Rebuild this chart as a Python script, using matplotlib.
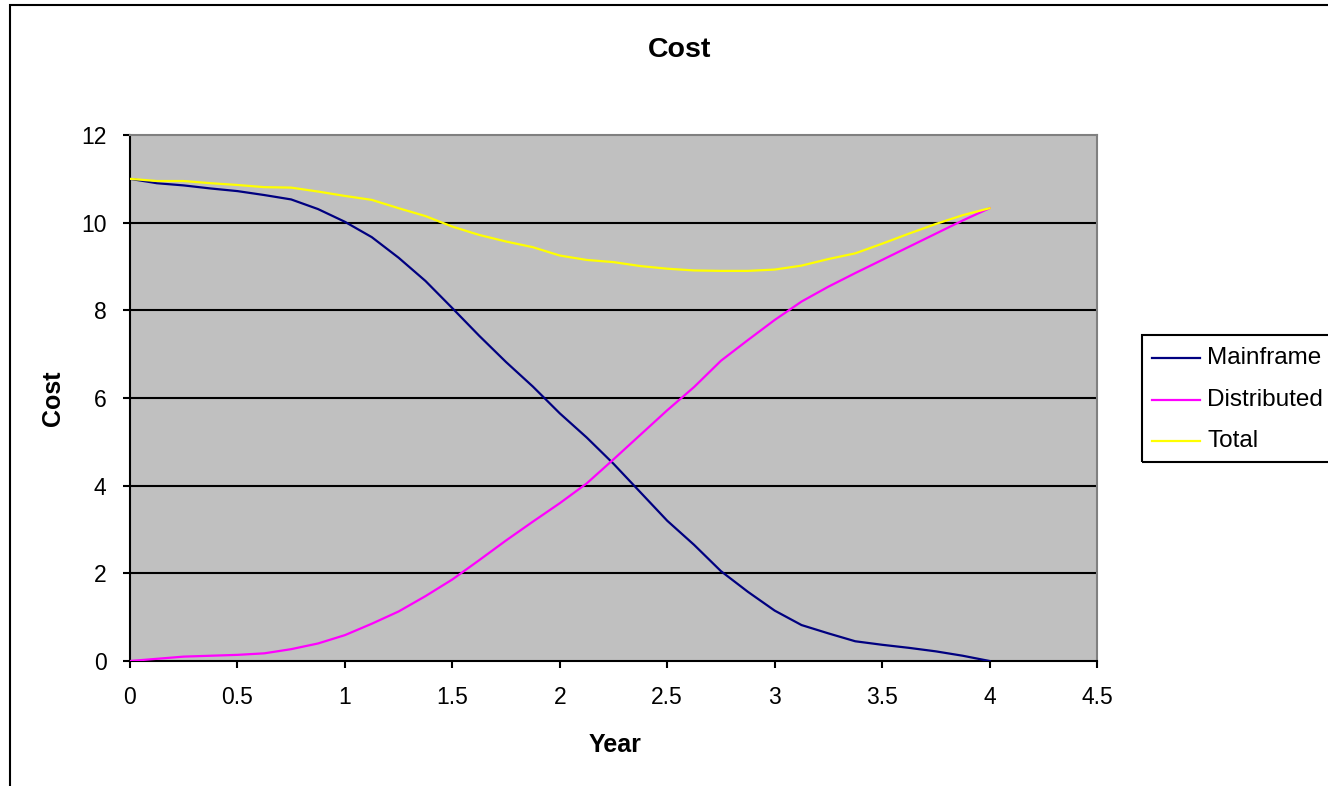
import numpy as np
import matplotlib.pyplot as plt
from matplotlib.patches import Rectangle
from matplotlib.lines import Line2D

plt.switch_backend('Agg')
plt.rcParams['font.family'] = ['Liberation Sans', 'DejaVu Sans']

# cost per year, sampled every 1/8 year
year = [0, 0.125, 0.25, 0.375, 0.5, 0.625, 0.75, 0.875,
        1.0, 1.125, 1.25, 1.375, 1.5, 1.625, 1.75, 1.875,
        2.0, 2.125, 2.25, 2.375, 2.5, 2.625, 2.75, 2.875,
        3.0, 3.125, 3.25, 3.375, 3.5, 3.625, 3.75, 3.875, 4.0]
mainframe = [11.0, 10.90, 10.85, 10.78, 10.72, 10.63, 10.53, 10.31,
             10.02, 9.67, 9.20, 8.67, 8.05, 7.42, 6.82, 6.26,
             5.65, 5.10, 4.50, 3.85, 3.20, 2.65, 2.05, 1.58,
             1.15, 0.82, 0.63, 0.45, 0.37, 0.30, 0.22, 0.12, 0.0]
distributed = [0.0, 0.05, 0.10, 0.12, 0.14, 0.175, 0.27, 0.40,
               0.59, 0.85, 1.13, 1.48, 1.86, 2.30, 2.75, 3.18,
               3.60, 4.05, 4.60, 5.16, 5.72, 6.25, 6.85, 7.32,
               7.78, 8.20, 8.54, 8.85, 9.15, 9.45, 9.75, 10.05, 10.33]
total = [11.0, 10.95, 10.95, 10.90, 10.86, 10.81, 10.80, 10.71,
         10.61, 10.52, 10.33, 10.15, 9.91, 9.72, 9.57, 9.44,
         9.25, 9.15, 9.10, 9.01, 8.95, 8.91, 8.90, 8.90,
         8.93, 9.02, 9.17, 9.30, 9.52, 9.75, 9.97, 10.17, 10.33]

series = ['Mainframe', 'Distributed', 'Total']
colors = ['#000080', '#FF00FF', '#FFFF00']

W, H = 1328, 786
fig = plt.figure(figsize=(W / 100, H / 100), dpi=100)

# chart area frame (runs off the right and bottom edges)
fig.patches.append(Rectangle((10 / W, -0.1), 1.2, 1 - 5 / H + 0.1,
                             transform=fig.transFigure, fill=False,
                             edgecolor='black', linewidth=1.5))

ax = fig.add_axes([130 / W, 1 - 661 / H, (1097 - 130) / W, (661 - 135) / H])
ax.set_facecolor('#C0C0C0')

for vals, name, c in zip([mainframe, distributed, total], series, colors):
    ax.plot(year, vals, color=c, linewidth=1.6, label=name, zorder=3)

ax.set_xlim(0, 4.5)
ax.set_ylim(0, 12)
ax.set_xticks(np.arange(0, 4.51, 0.5))
ax.set_xticklabels(['0', '0.5', '1', '1.5', '2', '2.5', '3', '3.5', '4', '4.5'])
ax.set_yticks(np.arange(0, 13, 2))
ax.tick_params(direction='out', length=5, width=1.5, labelsize=16.5,
               colors='black')
ax.tick_params(axis='x', pad=13)
ax.tick_params(axis='y', pad=12)

for yv in range(2, 12, 2):
    ax.axhline(yv, color='black', linewidth=1.5, zorder=1)

ax.spines['left'].set_linewidth(1.5)
ax.spines['bottom'].set_linewidth(1.5)
ax.spines['top'].set_color('#808080')
ax.spines['right'].set_color('#808080')
ax.spines['top'].set_linewidth(1.5)
ax.spines['right'].set_linewidth(1.5)

fig.text(680 / W, 1 - 50 / H, 'Cost', ha='center', va='center',
         fontsize=20.5, fontweight='bold')
fig.text(615 / W, 1 - 745 / H, 'Year', ha='center', va='center',
         fontsize=18, fontweight='bold')
fig.text(53 / W, 1 - 398 / H, 'Cost', ha='center', va='center',
         rotation=90, fontsize=18, fontweight='bold')

# legend box, open on the right
fig.patches.append(Rectangle((1142 / W, 1 - 462 / H), 0.2, 127 / H,
                             transform=fig.transFigure, fill=False,
                             edgecolor='black', linewidth=1.5))
for i, (name, c) in enumerate(zip(series, colors)):
    yy = 1 - (358 + 41.5 * i) / H
    fig.lines.append(Line2D([1152 / W, 1200 / W], [yy, yy],
                            transform=fig.transFigure, color=c,
                            linewidth=1.6))
    fig.text(1207 / W, yy, name, ha='left', va='center', fontsize=17.5)

fig.savefig('out.png', dpi=100)
plt.close('all')
